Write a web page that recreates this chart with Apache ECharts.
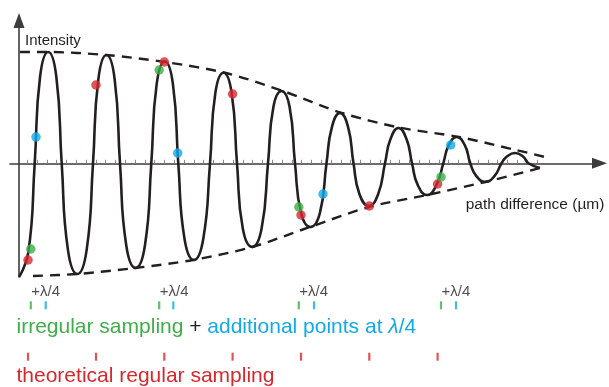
<!DOCTYPE html>
<html>
<head>
<meta charset="utf-8">
<title>Irregular sampling</title>
<script src="https://cdn.jsdelivr.net/npm/echarts@6/dist/echarts.min.js"></script>
<style>
  html, body {margin: 0; padding: 0; background: #fff;}
  #chart {width: 609px; height: 387px;}
</style>
</head>
<body>
<div id="chart"></div>
<script>
// interferogram: path difference (x) and intensity (y)
const curveX = [
  0, 9.4, 15.7, 21.1, 29.2, 37.3, 42.7, 48.9, 58.3, 67.7, 74, 79.4, 87.5, 95.6, 101,
  107.2, 116.6, 126, 132.3, 137.7, 145.8, 153.9, 159.3, 165.5, 174.9, 184.3, 191,
  196.4, 204.5, 212.6, 218, 223.8, 233.2, 242.6, 249, 254.4, 262.5, 270.6, 276,
  282.1, 291.5, 300.9, 307.5, 312.9, 321, 329.1, 334.5, 340.4, 349.8, 359.2, 366,
  371.4, 379.5, 387.6, 393, 398.7, 408.1, 417.5, 424.3, 429.7, 437.8, 445.9, 451.3,
  457, 466.4, 475.8, 482.5, 487.9, 496, 504.1, 509.5, 521
];
const curveY = [
  -113.7, -88.7, 0, 86.8, 111.3, 86.8, 0, -86.3, -110.7, -86.3, 0, 84.5, 108.3, 84.5, 0,
  -81.7, -104.7, -81.7, 0, 79.4, 101.8, 79.4, 0, -75.4, -96.7, -75.4, 0,
  70.7, 90.6, 70.7, 0, -65.3, -83.7, -65.3, 0, 56.4, 72.3, 56.4, 0,
  -49.7, -63.7, -49.7, 0, 36.2, 50.3, 36.2, 0, -30.7, -42.7, -30.7, 0,
  24, 35.3, 24, 0, -21.6, -31.7, -21.6, 0, 17.9, 26.3, 17.9, 0,
  -12.3, -18.7, -12.3, 0, 6.8, 10.3, 6.8, 0, -4.7
];

const envTopX = [1, 29, 87, 146, 207, 264, 323, 380, 440, 497, 526];
const envTopY = [111.3, 111.3, 108.3, 101.3, 90.3, 72.3, 50.3, 35.8, 26.3, 13.3, 6.3];
const envBottomX = [14, 58, 116, 174, 233, 291, 350, 408, 466, 521];
const envBottomY = [-112.7, -110.7, -104.7, -96.7, -83.7, -63.7, -43.7, -31.7, -18.7, -4.7];

// sampled points
const redX = [9, 77, 145.3, 213.6, 282, 350.3, 418.6];
const redY = [-96.7, 78.3, 101.3, 69.3, -51.7, -42.7, -20.7];
const greenX = [11.8, 140.2, 279.8, 422];
const greenY = [-85.7, 93.3, -43.7, -13.7];
const blueX = [17, 158.7, 304, 431.7];
const blueY = [26.3, 10.3, -30.7, 18.3];
const blueTickX = [26.7, 154.3, 295, 437];

const lambdaLabel = '+λ/4';

const red = '#d8282e';
const green = '#3fae49';
const blue = '#11a9e8';
const ink = '#231f20';
const font = '"Liberation Sans", Arial, sans-serif';

const zip = (xs, ys) => xs.map((x, i) => [x, ys[i]]);

// rows of the sampling strip (layout only)
const rowLabel = 6.7;
const rowIrregular = 20.3;
const rowRegular = 71.7;

const axisLine = {
  onZero: true,
  symbol: ['none', 'triangle'],
  symbolSize: [11, 15],
  lineStyle: {color: '#3d3d3d', width: 1.6}
};

const dots = (name, xs, ys, color) => ({
  name, type: 'scatter', xAxisIndex: 0, yAxisIndex: 0,
  data: zip(xs, ys), symbolSize: 9.5, z: 5,
  itemStyle: {color}
});

const ticks = (name, xs, row, color) => ({
  name, type: 'scatter', xAxisIndex: 2, yAxisIndex: 2,
  data: xs.map(x => [x, row]), symbol: 'rect', symbolSize: [2.2, 8],
  itemStyle: {color}, silent: true
});

const chart = echarts.init(document.getElementById('chart'));
chart.setOption({
  animation: false,
  backgroundColor: '#fff',
  grid: [
    {left: 10, right: 9.5, top: 20.5, bottom: 110},
    {left: 27.3, width: 509.6, top: 100, bottom: 223.7},
    {left: 10, right: 9.5, top: 285, bottom: 0}
  ],
  xAxis: [
    {gridIndex: 0, type: 'value', min: -9, max: 580.5, axisLine,
      axisTick: {show: false}, axisLabel: {show: false}, splitLine: {show: false}},
    {gridIndex: 1, type: 'value', min: 0, max: 52, interval: 1,
      axisLine: {show: false, onZero: false},
      axisTick: {inside: true, length: 3.5, lineStyle: {color: '#8a8a8a', width: 1}},
      axisLabel: {show: false}, splitLine: {show: false}},
    {gridIndex: 2, type: 'value', min: -9, max: 580.5, show: false}
  ],
  yAxis: [
    {gridIndex: 0, type: 'value', min: -113.7, max: 142.8, axisLine,
      axisTick: {show: false}, axisLabel: {show: false}, splitLine: {show: false}},
    {gridIndex: 1, type: 'value', min: 0, max: 1, show: false},
    {gridIndex: 2, type: 'value', min: 0, max: 102, inverse: true, show: false}
  ],
  series: [
    {
      name: 'envelope top', type: 'line', data: zip(envTopX, envTopY),
      smooth: 0.3, symbol: 'none', silent: true,
      lineStyle: {color: ink, width: 2.4, type: [10, 7]}
    },
    {
      name: 'envelope bottom', type: 'line', data: zip(envBottomX, envBottomY),
      smooth: 0.3, symbol: 'none', silent: true,
      lineStyle: {color: ink, width: 2.4, type: [10, 7]}
    },
    {
      name: 'interferogram', type: 'line', data: zip(curveX, curveY),
      smooth: 0.5, symbol: 'none', z: 3,
      lineStyle: {color: ink, width: 2.6}
    },
    dots('regular', redX, redY, red),
    dots('irregular', greenX, greenY, green),
    dots('additional', blueX, blueY, blue),
    ticks('irregular ticks', greenX, rowIrregular, green),
    ticks('additional ticks', blueTickX, rowIrregular, blue),
    ticks('regular ticks', redX, rowRegular, red),
    {
      name: 'lambda', type: 'scatter', xAxisIndex: 2, yAxisIndex: 2,
      data: greenX.map(x => [x, rowLabel]), symbolSize: 1,
      itemStyle: {color: 'transparent'},
      label: {
        show: true, position: 'right', distance: 0, formatter: lambdaLabel,
        color: ink, fontSize: 15, fontFamily: font
      }
    }
  ],
  graphic: [
    {type: 'text', x: 25, y: 41,
      style: {text: 'Intensity', font: '15px ' + font, fill: ink, verticalAlign: 'middle'}},
    {type: 'text', x: 465.7, y: 205,
      style: {text: 'path difference (µm)', font: '15.5px ' + font, fill: ink, verticalAlign: 'middle'}},
    {type: 'text', x: 16.5, y: 327,
      style: {
        text: '{g|irregular sampling}{k| + }{b|additional points at }{bi|λ}{b|/4}',
        font: '21px ' + font, fill: ink, verticalAlign: 'middle',
        rich: {
          g: {fill: green, font: '21px ' + font},
          k: {fill: ink, font: '21px ' + font},
          b: {fill: blue, font: '21px ' + font},
          bi: {fill: blue, font: 'italic 21px ' + font}
        }
      }},
    {type: 'text', x: 16.5, y: 376.5,
      style: {text: 'theoretical regular sampling', font: '21px ' + font, fill: red, verticalAlign: 'middle'}}
  ]
});
</script>
</body>
</html>
